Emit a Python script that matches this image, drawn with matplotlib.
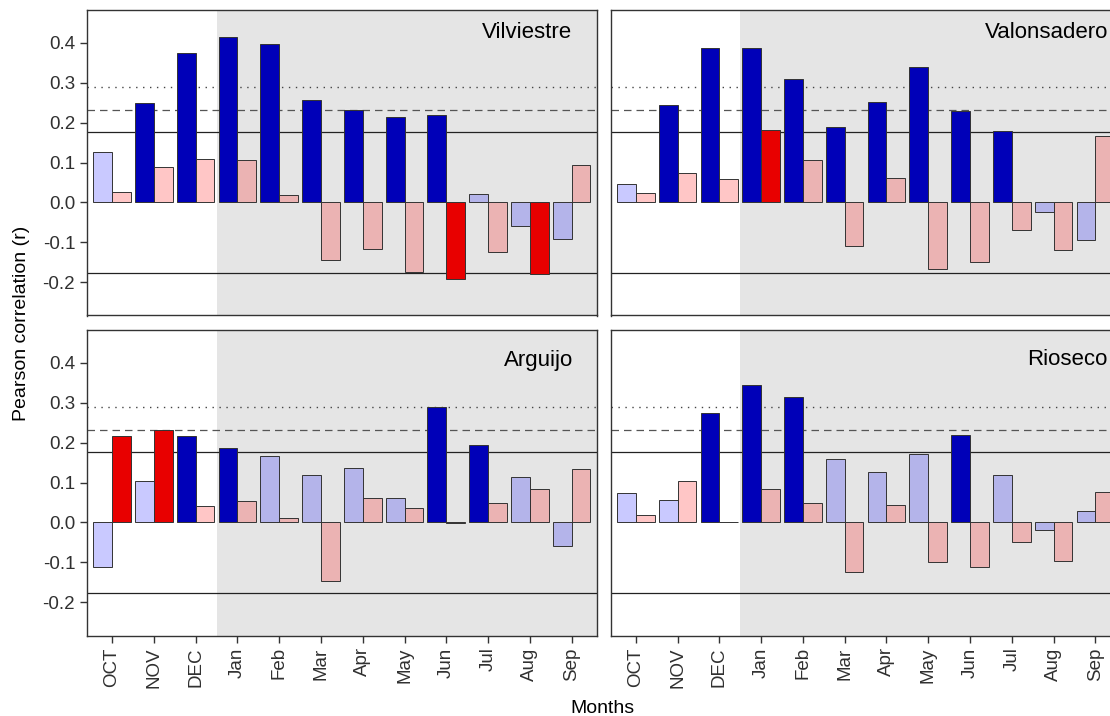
import numpy as np
import matplotlib.pyplot as plt
from matplotlib.colors import to_rgba

plt.rcParams['font.family'] = ['Liberation Sans', 'DejaVu Sans']
plt.rcParams['axes.unicode_minus'] = False

# data
months = ['OCT', 'NOV', 'DEC', 'Jan', 'Feb', 'Mar', 'Apr', 'May', 'Jun', 'Jul', 'Aug', 'Sep']
sites = ['Vilviestre', 'Valonsadero', 'Arguijo', 'Rioseco']

vilviestre_blue = [0.126, 0.249, 0.375, 0.414, 0.397, 0.257, 0.232, 0.215, 0.218, 0.021, -0.058, -0.091]
vilviestre_red = [0.026, 0.090, 0.110, 0.107, 0.018, -0.143, -0.117, -0.175, -0.192, -0.125, -0.179, 0.094]

valonsadero_blue = [0.047, 0.244, 0.386, 0.386, 0.308, 0.188, 0.252, 0.340, 0.230, 0.178, -0.025, -0.095]
valonsadero_red = [0.023, 0.073, 0.059, 0.182, 0.107, -0.110, 0.062, -0.167, -0.149, -0.069, -0.120, 0.167]

arguijo_blue = [-0.111, 0.104, 0.216, 0.187, 0.166, 0.120, 0.136, 0.061, 0.288, 0.194, 0.114, -0.059]
arguijo_red = [0.216, 0.231, 0.041, 0.054, 0.012, -0.146, 0.062, 0.037, -0.001, 0.048, 0.083, 0.135]

rioseco_blue = [0.074, 0.056, 0.273, 0.344, 0.314, 0.160, 0.127, 0.171, 0.220, 0.119, -0.018, 0.029]
rioseco_red = [0.018, 0.105, 0.002, 0.084, 0.048, -0.123, 0.044, -0.098, -0.112, -0.049, -0.096, 0.076]

blue_series = [vilviestre_blue, valonsadero_blue, arguijo_blue, rioseco_blue]
red_series = [vilviestre_red, valonsadero_red, arguijo_red, rioseco_red]

# significance levels (horizontal reference lines)
r_05 = 0.176
r_01 = 0.231
r_001 = 0.289

# colours
dark_blue = '#0000b8'
dark_red = '#e80000'
light_blue = to_rgba('#0000ff', 0.21)
light_red = to_rgba('#ff1414', 0.24)
panel_grey = '#e5e5e5'
edge = '#333333'

fig = plt.figure(figsize=(11.1, 7.16), dpi=100)

W, H = 1110, 716
col_x = [87, 610.7]
row_top = [10, 330]
pw, ph = 509.7, 305.5
label_pos = [(11.02, 0.413), (11.32, 0.413), (11.03, 0.392), (11.30, 0.394)]

x = np.arange(len(months))
bw = 0.45

for i, site in enumerate(sites):
    r, c = divmod(i, 2)
    ax = fig.add_axes([col_x[c] / W, 1 - (row_top[r] + ph) / H, pw / W, ph / H])
    ax.set_xlim(-0.6, 11.6)
    ax.set_ylim(-0.283, 0.482)

    # growing season shading
    ax.axvspan(2.5, 12, color=panel_grey, zorder=0, lw=0)

    ax.axhline(r_05, color='#222222', lw=0.9, zorder=1)
    ax.axhline(-r_05, color='#222222', lw=0.9, zorder=1)
    ax.axhline(r_01, color='#555555', lw=0.9, ls=(0, (6, 4)), zorder=1)
    ax.axhline(r_001, color='#444444', lw=1.0, ls=(0, (1, 4)), zorder=1)

    b = np.array(blue_series[i])
    rd = np.array(red_series[i])
    bcol = [dark_blue if abs(v) > r_05 else light_blue for v in b]
    rcol = [dark_red if abs(v) > r_05 else light_red for v in rd]
    ax.bar(x - bw / 2, b, width=bw, color=bcol, edgecolor=edge, linewidth=0.7, zorder=2)
    ax.bar(x + bw / 2, rd, width=bw, color=rcol, edgecolor=edge, linewidth=0.7, zorder=2)

    lx, ly = label_pos[i]
    ax.text(lx, ly, site, ha='right', va='baseline', fontsize=16, color='black', zorder=3)

    for s in ax.spines.values():
        s.set_color(edge)
        s.set_linewidth(1.0)
        s.set_zorder(4)

    ax.set_yticks([-0.2, -0.1, 0.0, 0.1, 0.2, 0.3, 0.4])
    ax.set_xticks(x)
    ax.tick_params(colors=edge, labelcolor='#303030', labelsize=13.5, length=5, width=1)
    if c == 0:
        ax.set_yticklabels(['%.1f' % t for t in ax.get_yticks()])
    else:
        ax.tick_params(axis='y', left=False, labelleft=False)
    if r == 1:
        ax.set_xticklabels(months, rotation=90)
    else:
        ax.tick_params(axis='x', bottom=False, labelbottom=False)

fig.text(22 / W, 1 - 323 / H, 'Pearson correlation (r)', rotation=90, ha='center', va='center', fontsize=14)
fig.text(602 / W, 1 - 713 / H, 'Months', ha='center', va='baseline', fontsize=14)

fig.savefig('out.png', dpi=100)
